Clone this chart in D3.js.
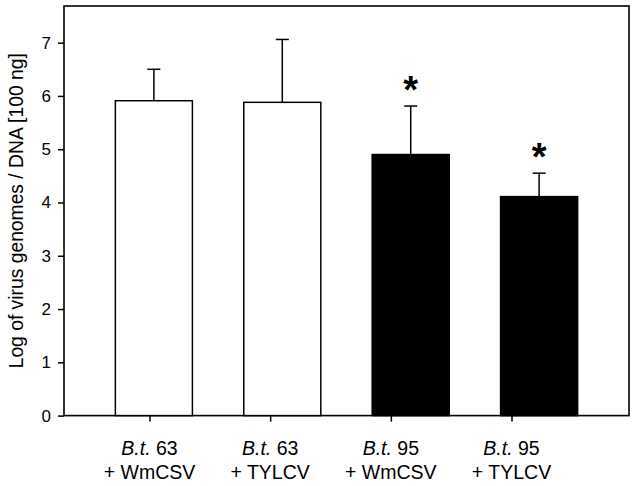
<!doctype html>
<html>
<head>
<meta charset="utf-8">
<title>Virus genomes</title>
<script src="https://cdnjs.cloudflare.com/ajax/libs/d3/7.8.5/d3.min.js"></script>
<style>
  body { margin: 0; background: #fff; }
  svg { font-family: "Liberation Sans", Arial, sans-serif; }
</style>
</head>
<body>
<div id="chart"></div>
<script>
// data
const strains = ["B.t.", "B.t.", "B.t.", "B.t."];
const strainNums = ["63", "63", "95", "95"];
const viruses = ["+ WmCSV", "+ TYLCV", "+ WmCSV", "+ TYLCV"];
const means = [5.91, 5.88, 4.90, 4.11];
const errors = [0.59, 1.18, 0.91, 0.44];
const significant = [false, false, true, true];
const yTicks = [0, 1, 2, 3, 4, 5, 6, 7];

const W = 636, H = 486;
const mLeft = 64, mRight = 629, mTop = 6, mBottom = 415.6;

const svg = d3.select("#chart").append("svg")
  .attr("width", W).attr("height", H);

const idx = d3.range(means.length);

const x = d3.scaleBand()
  .domain(idx)
  .range([mLeft, mRight])
  .padding(0.4);

// sigmaplot places the category ticks a bit off the bars
const xTick = d3.scalePoint()
  .domain(idx)
  .range([149.5, 511.5]);

const y = d3.scaleLinear()
  .domain([0, 7.688])
  .range([mBottom, mTop]);

// frame
svg.append("rect")
  .attr("x", mLeft).attr("y", mTop)
  .attr("width", mRight - mLeft).attr("height", mBottom - mTop)
  .attr("fill", "none").attr("stroke", "#000").attr("stroke-width", 1.6);

// bars
svg.selectAll("rect.bar")
  .data(idx)
  .join("rect")
  .attr("class", "bar")
  .attr("x", i => x(i))
  .attr("width", x.bandwidth())
  .attr("y", i => y(means[i]))
  .attr("height", i => y(0) - y(means[i]))
  .attr("fill", i => i < 2 ? "#fff" : "#000")
  .attr("stroke", "#000")
  .attr("stroke-width", 1.5);

// error bars (upper only)
const cap = 6.5;
const eb = svg.append("g").attr("stroke", "#000").attr("stroke-width", 1.5);
eb.selectAll("line.v")
  .data(idx)
  .join("line")
  .attr("class", "v")
  .attr("x1", i => x(i) + x.bandwidth() / 2)
  .attr("x2", i => x(i) + x.bandwidth() / 2)
  .attr("y1", i => y(means[i]))
  .attr("y2", i => y(means[i] + errors[i]));
eb.selectAll("line.c")
  .data(idx)
  .join("line")
  .attr("class", "c")
  .attr("x1", i => x(i) + x.bandwidth() / 2 - cap)
  .attr("x2", i => x(i) + x.bandwidth() / 2 + cap)
  .attr("y1", i => y(means[i] + errors[i]))
  .attr("y2", i => y(means[i] + errors[i]));

// asterisks
svg.selectAll("text.star")
  .data(idx.filter(i => significant[i]))
  .join("text")
  .attr("class", "star")
  .attr("x", i => x(i) + x.bandwidth() / 2)
  .attr("y", i => y(means[i] + errors[i]) - 3)
  .attr("text-anchor", "middle")
  .style("font-size", "38px")
  .style("font-weight", "bold")
  .text("*");

// y axis
const yAxis = d3.axisLeft(y)
  .tickValues(yTicks)
  .tickSize(6)
  .tickPadding(7)
  .tickFormat(d3.format("d"));
const gy = svg.append("g")
  .attr("transform", `translate(${mLeft},0)`)
  .call(yAxis);
gy.select(".domain").remove();
gy.selectAll(".tick line").attr("stroke-width", 1.5);
gy.selectAll(".tick text")
  .style("font-size", "17px")
  .style("font-family", "Liberation Sans, Arial, sans-serif")
  .attr("fill", "#000");

// x axis ticks
const xAxis = d3.axisBottom(xTick).tickSize(6).tickFormat("");
const gx = svg.append("g")
  .attr("transform", `translate(0,${mBottom})`)
  .call(xAxis);
gx.select(".domain").remove();
gx.selectAll(".tick line").attr("stroke-width", 1.5);

// x labels, two lines
const labels = svg.append("g")
  .style("font-size", "19.5px")
  .attr("text-anchor", "middle");
const l1 = labels.selectAll("text.l1")
  .data(idx)
  .join("text")
  .attr("class", "l1")
  .attr("x", i => xTick(i))
  .attr("y", 455);
l1.append("tspan").attr("font-style", "italic").text(i => strains[i]);
l1.append("tspan").text(i => " " + strainNums[i]);
labels.selectAll("text.l2")
  .data(idx)
  .join("text")
  .attr("class", "l2")
  .attr("x", i => xTick(i))
  .attr("y", 479)
  .text(i => viruses[i]);

// y title
svg.append("text")
  .attr("transform", `translate(23,${(mTop + mBottom) / 2}) rotate(-90)`)
  .attr("text-anchor", "middle")
  .style("font-size", "19.3px")
  .text("Log of virus genomes / DNA [100 ng]");
</script>
</body>
</html>
